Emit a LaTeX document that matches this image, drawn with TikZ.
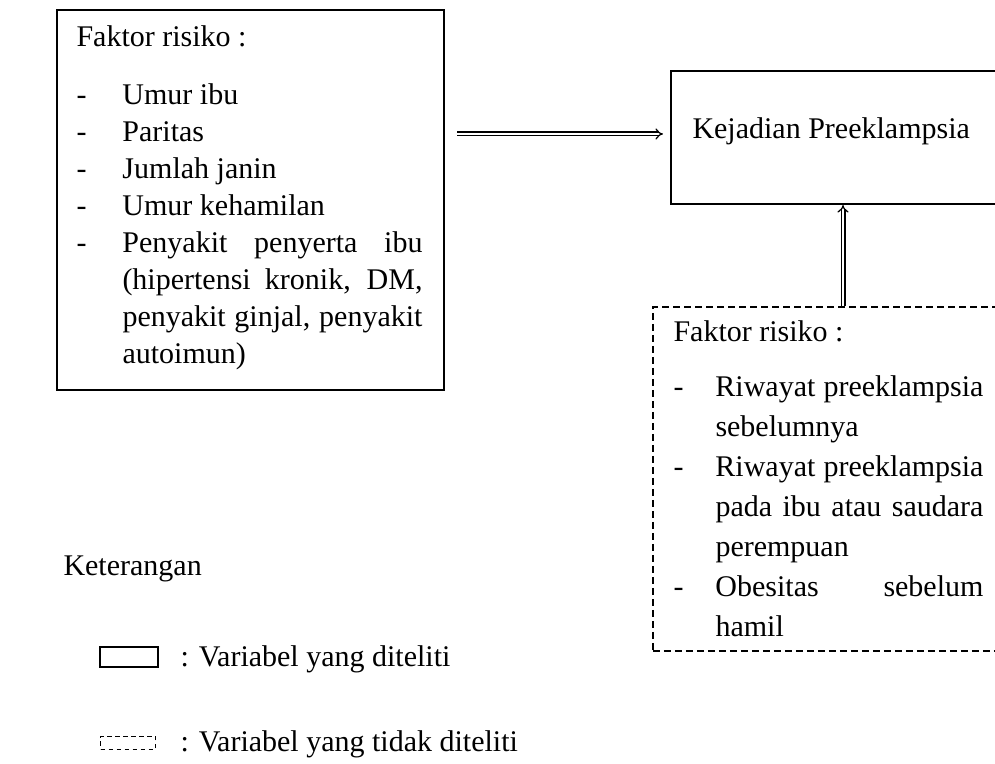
\documentclass[tikz,border=0pt]{standalone}
\usepackage{fontspec}
\setmainfont{Liberation Serif}
\usepackage{tikz}
\usetikzlibrary{shapes,arrows,fit,positioning}
\hbadness=10000
\hfuzz=5pt

\begin{document}
\begin{tikzpicture}[x=0.4pt,y=-0.4pt,
    font=\fontsize{12}{14.8}\selectfont,
    box/.style={draw, line width=0.8pt, inner sep=0pt},
    dbox/.style={draw, line width=0.7pt, inner sep=0pt, dash pattern=on 2.8pt off 1.6pt},
    txt/.style={inner sep=0pt, align=left},
    dbl/.style={double, double distance=1pt, line width=0.5pt, -implies}]
\useasboundingbox (0,0) rectangle (995,764);

\node[box, anchor=north west, minimum width=154.8pt, minimum height=152pt] (faktor) at (56,9) {};
\node[txt, anchor=base west] (faktortxt) at (76,47) {%
  \begin{tabular}[t]{@{}p{18.4pt}@{}p{120pt}@{}}
  \multicolumn{2}{@{}l@{}}{Faktor risiko :}\\[8.4pt]
  - & Umur ibu\\
  - & Paritas\\
  - & Jumlah janin\\
  - & Umur kehamilan\\
  - & Penyakit penyerta ibu\linebreak (hipertensi kronik, DM,\linebreak penyakit ginjal, penyakit\linebreak autoimun)\\
  \end{tabular}};

\node[box, anchor=north west, minimum width=137.6pt, minimum height=53.2pt] (kejadian) at (670,70) {};
\node[txt, anchor=base west] (kejadiantxt) at (692,139) {Kejadian Preeklampsia};
\coordinate (kejin) at ([yshift=2pt]kejadiantxt.base west -| kejadian.west);

\node[dbox, anchor=north west, minimum width=150pt, minimum height=137.6pt] (tidak) at (652,306) {};
\node[txt, anchor=base west, font=\fontsize{12}{16}\selectfont] (tidaktxt) at (673,342) {%
  \begin{tabular}[t]{@{}p{16.8pt}@{}p{107.2pt}@{}}
  \multicolumn{2}{@{}l@{}}{Faktor risiko :}\\[6pt]
  - & Riwayat preeklampsia\linebreak sebelumnya\\
  - & Riwayat preeklampsia\linebreak pada ibu atau saudara\linebreak perempuan\\
  - & Obesitas sebelum\linebreak hamil\\
  \end{tabular}};

\draw[dbl, shorten <=4.8pt, shorten >=2.8pt] (faktor.east |- kejin) -- (kejin);
\draw[dbl] (tidak.north -| kejadian.south) -- (kejadian.south);

% keterangan
\node[txt, anchor=base west] (ket) at (63,576) {Keterangan};
\node[box, minimum width=23pt, minimum height=8pt] (legsolid) at (129,657) {};
\node[txt, anchor=base west] (legsolidtxt) at (180,667) {: Variabel yang diteliti};
\node[box, line width=0.6pt, dash pattern=on 1.8pt off 1.4pt, minimum width=22pt, minimum height=5.2pt] (legdash) at (128,743) {};
\node[txt, anchor=base west] (legdashtxt) at (180,752) {: Variabel yang tidak diteliti};

\end{tikzpicture}
\end{document}
